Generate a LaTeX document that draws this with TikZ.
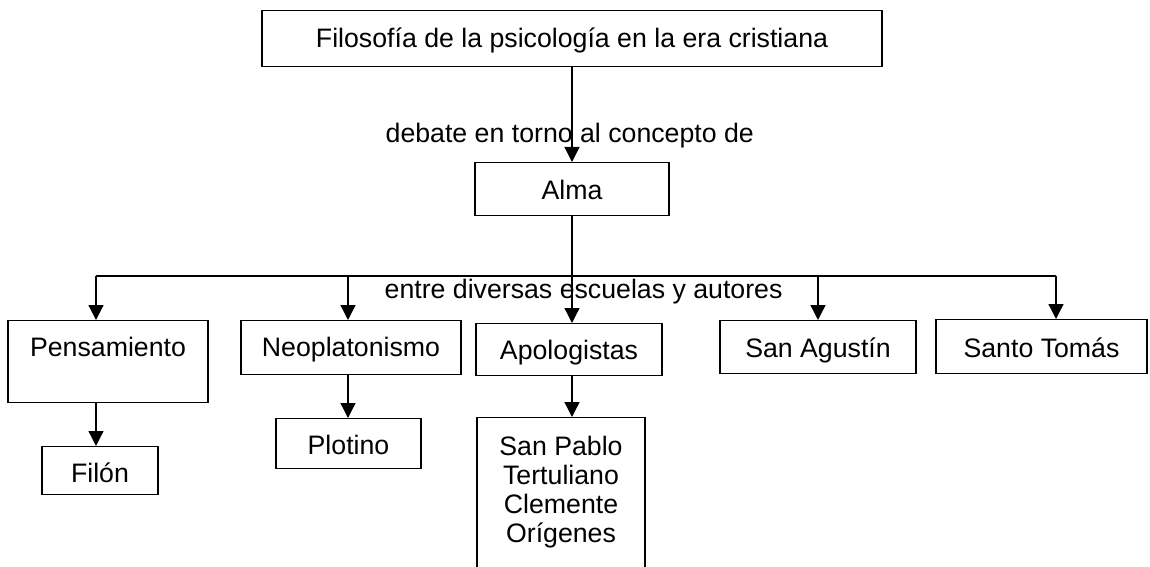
\documentclass[tikz,border=0pt]{standalone}
\usepackage{fontspec}
\setmainfont{Liberation Sans}
\usetikzlibrary{arrows.meta}
\begin{document}
\begin{tikzpicture}[x=0.02cm,y=-0.02cm,
  font=\fontsize{15.2pt}{16.5pt}\selectfont,
  line width=0.75pt,
  box/.style={draw, line width=0.75pt, inner sep=0pt, anchor=north},
  arr/.style={-{Triangle[length=0.3cm,width=0.3cm]}},
  lbl/.style={inner sep=0pt, anchor=base west}]
\useasboundingbox (0,0) rectangle (1150,567);
% boxes
\node[box, minimum width=12.4cm, text height=0.74cm, text depth=0.38cm] (top) at (572,10) {Filosofía de la psicología en la era cristiana};
\node[box, minimum width=3.88cm, text height=0.74cm, text depth=0.32cm] (alma) at (572,162) {Alma};
\node[box, minimum width=4cm, text height=0.72cm, text depth=0.92cm] (pens) at (108,320) {Pensamiento};
\node[box, minimum width=4.4cm, text height=0.72cm, text depth=0.36cm] (neo) at (351,320) {Neoplatonismo};
\node[box, minimum width=3.72cm, text height=0.72cm, text depth=0.32cm] (apol) at (569,323) {Apologistas};
\node[box, minimum width=3.92cm, text height=0.74cm, text depth=0.32cm] (agus) at (818,320) {San Agustín};
\node[box, minimum width=4.22cm, text height=0.76cm, text depth=0.32cm] (tomas) at (1041.5,319) {Santo Tomás};
\node[box, minimum width=2.32cm, text height=0.72cm, text depth=0.24cm] (filon) at (100,446) {Filón};
\node[box, minimum width=2.9cm, text height=0.72cm, text depth=0.28cm] (plot) at (348.5,418) {Plotino};
\node[box, minimum width=3.36cm, minimum height=3.8cm] (names) at (561,417) {};
\node[inner sep=0pt, anchor=north, align=center] (namestxt) at (561,435.5) {San Pablo\\Tertuliano\\Clemente\\Orígenes};
% labels
\node[lbl] (lab1) at (385,143) {debate en torno al concepto de};
\node[lbl] (lab2) at (384,299) {entre diversas escuelas y autores};
% connectors
\draw[arr] (top.south -| alma.north) -- (alma.north);
\draw[arr] (alma.south) -- (alma.south |- apol.north);
\coordinate (hl) at (96,276);
\coordinate (hn) at (348,276);
\coordinate (hr) at (1056,276);
\draw (hl) -- (hr);
\draw[arr] (hl) -- (hl |- pens.north);
\draw[arr] (hn) -- (hn |- neo.north);
\draw[arr] (agus.north |- hl) -- (agus.north);
\draw[arr] (hr) -- (hr |- tomas.north);
\draw[arr] (pens.south -| hl) -- (filon.north -| hl);
\draw[arr] (neo.south -| hn) -- (plot.north -| hn);
\draw[arr] (apol.south -| alma.south) -- (names.north -| alma.south);
\end{tikzpicture}
\end{document}
